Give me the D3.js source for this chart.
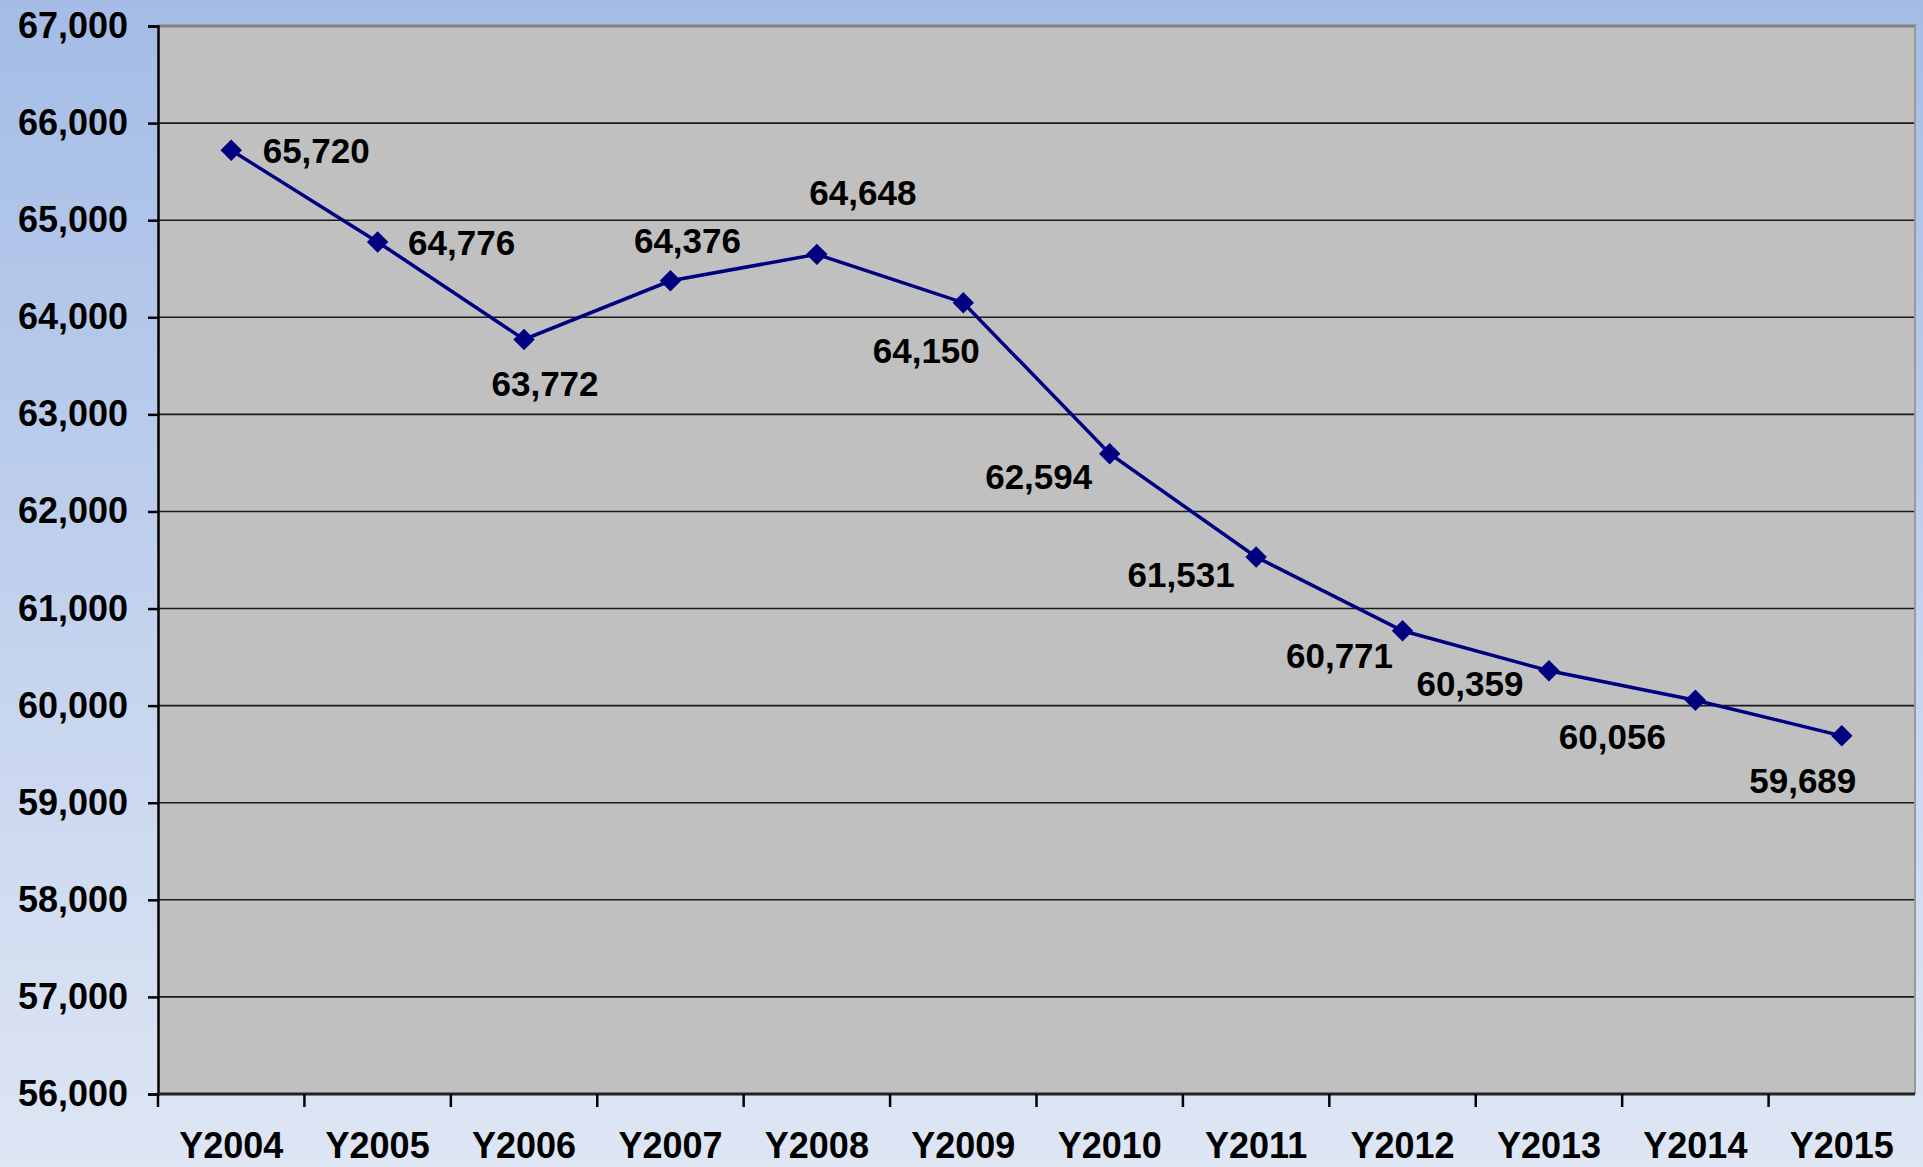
<!DOCTYPE html>
<html>
<head>
<meta charset="utf-8">
<script src="https://cdn.jsdelivr.net/npm/d3@7/dist/d3.min.js"></script>
<style>
  html, body { margin: 0; padding: 0; overflow: hidden; }
  text { font-family: "Liberation Sans", Arial, sans-serif; font-weight: bold; fill: #000; }
</style>
</head>
<body>
<div id="chart"></div>
<script>
// chart data
var years = ["Y2004", "Y2005", "Y2006", "Y2007", "Y2008", "Y2009",
             "Y2010", "Y2011", "Y2012", "Y2013", "Y2014", "Y2015"];
var counts = [65720, 64776, 63772, 64376, 64648, 64150,
              62594, 61531, 60771, 60359, 60056, 59689];
var yTicks = [56000, 57000, 58000, 59000, 60000, 61000,
              62000, 63000, 64000, 65000, 66000, 67000];

// where each data label sits relative to its marker (layout only)
var labelOffsets = [[85, 0], [84, 0], [21, 44], [17, -40], [46, -62], [-37, 48],
                    [-71, 23], [-75, 17], [-63, 25], [-79, 13], [-83, 36], [-39, 45]];

var W = 1923, H = 1167;
var plotLeft = 158, plotRight = 1915, plotTop = 26, plotBottom = 1094;

var svg = d3.select("#chart").append("svg")
  .attr("width", W)
  .attr("height", H);

var defs = svg.append("defs");
var grad = defs.append("linearGradient")
  .attr("id", "bg")
  .attr("x1", 0).attr("y1", 0).attr("x2", 0).attr("y2", 1);
grad.append("stop").attr("offset", "0%").attr("stop-color", "#a4bce6");
grad.append("stop").attr("offset", "100%").attr("stop-color", "#dee6f4");

svg.append("rect")
  .attr("width", W).attr("height", H)
  .attr("fill", "url(#bg)");

var x = d3.scaleBand().domain(years).range([plotLeft, plotRight]);
var y = d3.scaleLinear().domain([56000, 67000]).range([plotBottom, plotTop]);

// plot area
svg.append("rect")
  .attr("x", plotLeft).attr("y", plotTop)
  .attr("width", plotRight - plotLeft).attr("height", plotBottom - plotTop)
  .attr("fill", "#c0c0c0");

// gridlines
svg.append("g")
  .selectAll("line")
  .data(yTicks.slice(1, -1))
  .enter()
  .append("line")
  .attr("x1", plotLeft).attr("x2", plotRight)
  .attr("y1", function (d) { return y(d); })
  .attr("y2", function (d) { return y(d); })
  .attr("stroke", "#1a1a1a")
  .attr("stroke-width", 1.6);

// top and right border
svg.append("line")
  .attr("x1", plotLeft).attr("x2", plotRight + 1)
  .attr("y1", plotTop).attr("y2", plotTop)
  .attr("stroke", "#808080").attr("stroke-width", 3);
svg.append("line")
  .attr("x1", plotRight).attr("x2", plotRight)
  .attr("y1", plotTop).attr("y2", plotBottom)
  .attr("stroke", "#9a9a9a").attr("stroke-width", 2);

// y axis
var yAxis = d3.axisLeft(y)
  .tickValues(yTicks)
  .tickSize(10)
  .tickPadding(20)
  .tickFormat(d3.format(","));
var gy = svg.append("g")
  .attr("transform", "translate(" + plotLeft + ",0)")
  .call(yAxis);
gy.select(".domain").attr("stroke", "#000").attr("stroke-width", 2.5);
gy.selectAll(".tick line").attr("stroke", "#000").attr("stroke-width", 2.5);
gy.selectAll(".tick text")
  .attr("font-size", 36)
  .style("font-family", "'Liberation Sans', Arial, sans-serif")
  .style("font-weight", "bold")
  .attr("fill", "#000");

// x axis: ticks sit on category boundaries
var gx = svg.append("g")
  .attr("transform", "translate(0," + plotBottom + ")");
gx.append("line")
  .attr("x1", plotLeft).attr("x2", plotRight)
  .attr("y1", 0).attr("y2", 0)
  .attr("stroke", "#222").attr("stroke-width", 3);
gx.selectAll(".bt")
  .data(years)
  .enter()
  .append("line")
  .attr("class", "bt")
  .attr("x1", function (d) { return x(d); })
  .attr("x2", function (d) { return x(d); })
  .attr("y1", 0).attr("y2", 13)
  .attr("stroke", "#000").attr("stroke-width", 2.5);
gx.selectAll(".xl")
  .data(years)
  .enter()
  .append("text")
  .attr("class", "xl")
  .attr("x", function (d) { return x(d) + x.bandwidth() / 2; })
  .attr("y", 64)
  .attr("text-anchor", "middle")
  .attr("font-size", 36)
  .text(function (d) { return d; });

// series
var pts = years.map(function (d, i) {
  return { year: d, value: counts[i], off: labelOffsets[i] };
});
var cx = function (d) { return x(d.year) + x.bandwidth() / 2; };

var line = d3.line()
  .x(cx)
  .y(function (d) { return y(d.value); });

svg.append("path")
  .datum(pts)
  .attr("d", line)
  .attr("fill", "none")
  .attr("stroke", "#000080")
  .attr("stroke-width", 3.5);

svg.append("g")
  .selectAll("path")
  .data(pts)
  .enter()
  .append("path")
  .attr("d", d3.symbol().type(d3.symbolSquare).size(230))
  .attr("transform", function (d) {
    return "translate(" + cx(d) + "," + y(d.value) + ") rotate(45)";
  })
  .attr("fill", "#000080");

svg.append("g")
  .selectAll("text")
  .data(pts)
  .enter()
  .append("text")
  .attr("x", function (d) { return cx(d) + d.off[0]; })
  .attr("y", function (d) { return y(d.value) + d.off[1]; })
  .attr("dy", "0.36em")
  .attr("text-anchor", "middle")
  .attr("font-size", 35)
  .text(function (d) { return d3.format(",")(d.value); });
</script>
</body>
</html>
